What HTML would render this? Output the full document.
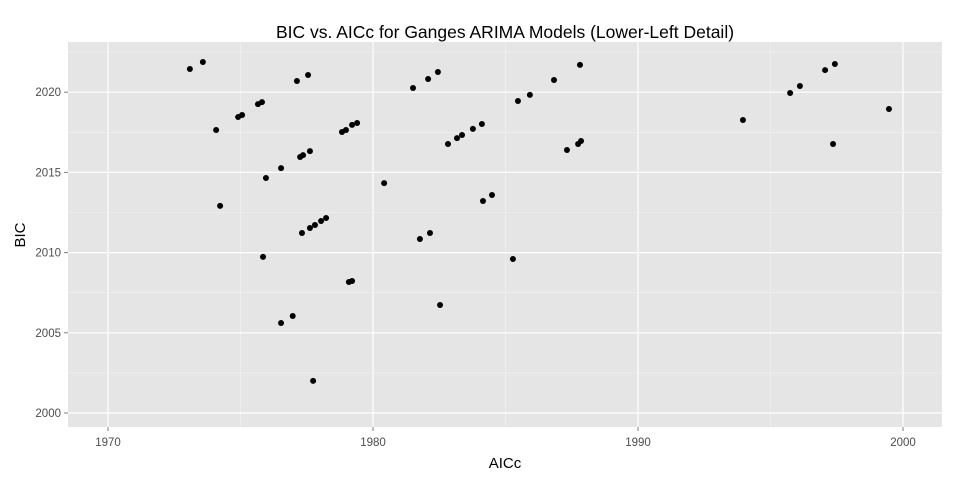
<!DOCTYPE html>
<html><head><meta charset="utf-8"><style>
body{margin:0;background:#fff;}
svg text{font-family:"Liberation Sans",sans-serif;}
</style></head><body>
<svg id="chart" width="960" height="480">
<rect x="0" y="0" width="960" height="480" fill="#fff"/>
<text x="505" y="38" text-anchor="middle" font-size="17.5" fill="#000">BIC vs. AICc for Ganges ARIMA Models (Lower-Left Detail)</text>
<rect x="68" y="42" width="874" height="385" fill="#e5e5e5"/>
<g id="grid"></g>
<g id="points"></g>
<g id="ticks"></g>
<text x="505" y="468" text-anchor="middle" font-size="15" fill="#000">AICc</text>
<text x="25" y="235" text-anchor="middle" font-size="15" fill="#000" transform="rotate(-90 25 235)">BIC</text>
</svg>
<script>
const xTicks=[1970,1980,1990,2000];
const yTicks=[2000,2005,2010,2015,2020];
const aicc=[1973.09,1973.58,1974.08,1974.23,1974.91,1975.06,1975.66,1975.81,1975.85,1975.96,1976.53,1976.53,1976.97,1977.13,1977.25,1977.32,1977.36,1977.55,1977.62,1977.62,1977.81,1978.04,1978.23,1978.83,1978.98,1979.21,1979.40,1979.09,1979.21,1977.74,1980.42,1981.51,1981.77,1982.08,1982.15,1982.45,1982.53,1982.83,1983.17,1983.36,1983.77,1984.11,1984.15,1984.49,1985.28,1985.47,1985.92,1986.83,1987.32,1987.74,1987.81,1987.85,1993.96,1995.74,1996.11,1997.06,1997.36,1997.43,1999.47];
const bic=[2021.45,2021.88,2017.64,2012.91,2018.45,2018.58,2019.26,2019.38,2009.73,2014.65,2005.61,2015.27,2006.05,2020.70,2015.96,2011.22,2016.08,2021.07,2016.33,2011.53,2011.72,2011.97,2012.16,2017.52,2017.64,2017.96,2018.08,2008.17,2008.23,2002.0,2014.33,2020.26,2010.85,2020.82,2011.22,2021.26,2006.73,2016.77,2017.14,2017.33,2017.71,2018.02,2013.22,2013.59,2009.60,2019.45,2019.83,2020.76,2016.40,2016.77,2021.70,2016.96,2018.27,2019.95,2020.39,2021.38,2016.77,2021.76,2018.95];
const sx=v=>108+(v-1970)*26.5;
const sy=v=>413-(v-2000)*16.04;
const NS="http://www.w3.org/2000/svg";
function mk(tag,attrs,parent){const e=document.createElementNS(NS,tag);for(const k in attrs)e.setAttribute(k,attrs[k]);parent.appendChild(e);return e;}
const grid=document.getElementById('grid'),pts=document.getElementById('points'),tk=document.getElementById('ticks');
for(let i=0;i<xTicks.length;i++){
  const v=xTicks[i];
  const m=mk('line',{x1:sx(v+5),x2:sx(v+5),y1:42,y2:427,stroke:'#f2f2f2','stroke-width':0.6},grid);
  
  
  const l=mk('line',{x1:sx(v),x2:sx(v),y1:42,y2:427,stroke:'#fff','stroke-width':1.2},grid);
  
  
  const t=mk('text',{x:sx(v),y:446,'text-anchor':'middle','font-size':11.5,fill:'#4d4d4d'},tk);
  t.textContent=v;
  
  
  mk('line',{x1:sx(v),x2:sx(v),y1:427,y2:431,stroke:'#7f7f7f'},tk);
}
for(let i=0;i<yTicks.length;i++){
  const v=yTicks[i];
  const m=mk('line',{x1:68,x2:942,y1:sy(v+2.5),y2:sy(v+2.5),stroke:'#f2f2f2','stroke-width':0.6},grid);
  
  
  const l=mk('line',{x1:68,x2:942,y1:sy(v),y2:sy(v),stroke:'#fff','stroke-width':1.2},grid);
  
  
  const t=mk('text',{x:61,y:sy(v)+4,'text-anchor':'end','font-size':11.5,fill:'#4d4d4d'},tk);
  t.textContent=v;
  
  
  mk('line',{x1:64,x2:68,y1:sy(v),y2:sy(v),stroke:'#7f7f7f'},tk);
}
for(let i=0;i<aicc.length;i++){
  const c=mk('circle',{cx:sx(aicc[i]),cy:sy(bic[i]),r:3,fill:'#000'},pts);
  
  
}
</script>
</body></html>
